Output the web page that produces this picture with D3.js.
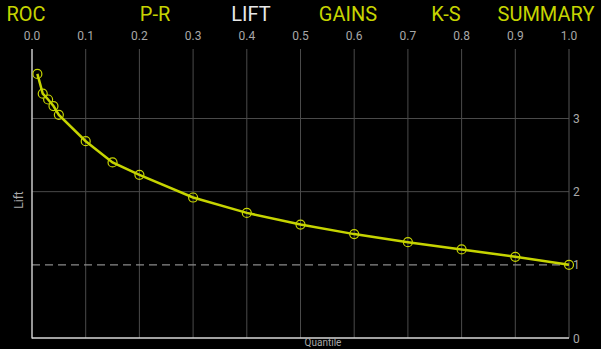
<!DOCTYPE html>
<html><head><meta charset="utf-8">
<script src="https://cdn.jsdelivr.net/npm/d3@7"></script>
<style>html,body{margin:0;padding:0;background:#000;overflow:hidden}</style>
</head><body>
<svg id="chart" width="601" height="349"></svg>
<script>
const tabs = ["ROC", "P-R", "LIFT", "GAINS", "K-S", "SUMMARY"];
const activeTab = "LIFT";
const quantiles = [0.01, 0.02, 0.03, 0.04, 0.05, 0.1, 0.15, 0.2, 0.3, 0.4, 0.5, 0.6, 0.7, 0.8, 0.9, 1.0];
const lift = [3.61, 3.34, 3.26, 3.17, 3.05, 2.69, 2.40, 2.23, 1.92, 1.71, 1.55, 1.42, 1.31, 1.21, 1.11, 1.0];
const xTicks = [0, 0.1, 0.2, 0.3, 0.4, 0.5, 0.6, 0.7, 0.8, 0.9, 1.0];
const yTicks = [0, 1, 2, 3];
const baseline = 1;

const svg = d3.select("#chart");
const m = {left: 32, right: 569, top: 49, bottom: 338};
const x = d3.scaleLinear().domain([0, 1]).range([m.left, m.right]);
const y = d3.scaleLinear().domain([0, 3.95]).range([m.bottom, m.top]);
const yellow = "#c6d400";
const font = "Roboto, 'DejaVu Sans', sans-serif";

// tabs
const tabCenters = {"ROC": 26, "P-R": 155, "LIFT": 251, "GAINS": 348, "K-S": 446, "SUMMARY": 546};
svg.append("g").selectAll("text").data(tabs).join("text")
  .attr("x", d => tabCenters[d]).attr("y", 21)
  .attr("text-anchor", "middle")
  .attr("font-family", font).attr("font-size", 20)
  .attr("fill", d => d === activeTab ? "#e8e8e8" : yellow)
  .text(d => d);

// vertical grid
svg.append("g").selectAll("line").data(xTicks.slice(1, -1)).join("line")
  .attr("x1", d => x(d)).attr("x2", d => x(d))
  .attr("y1", m.top).attr("y2", m.bottom)
  .attr("stroke", "#4a4a4a").attr("stroke-width", 1);
// horizontal grid
svg.append("g").selectAll("line").data(yTicks.filter(d => d > 0 && d !== baseline)).join("line")
  .attr("x1", m.left).attr("x2", m.right)
  .attr("y1", d => y(d)).attr("y2", d => y(d))
  .attr("stroke", "#4a4a4a").attr("stroke-width", 1);

// baseline dashed
svg.append("line")
  .attr("x1", m.left).attr("x2", m.right)
  .attr("y1", y(baseline)).attr("y2", y(baseline))
  .attr("stroke", "#8a8a8a").attr("stroke-width", 1.2)
  .attr("stroke-dasharray", "8,5");

// right axis line
svg.append("line").attr("x1", m.right).attr("x2", m.right)
  .attr("y1", m.top).attr("y2", m.bottom)
  .attr("stroke", "#555").attr("stroke-width", 1);
// left axis line
svg.append("line").attr("x1", m.left).attr("x2", m.left)
  .attr("y1", m.top).attr("y2", m.bottom + 0.5)
  .attr("stroke", "#c8c8c8").attr("stroke-width", 1.5);
// bottom axis line
svg.append("line").attr("x1", m.left).attr("x2", m.right)
  .attr("y1", m.bottom).attr("y2", m.bottom)
  .attr("stroke", "#d8d8d8").attr("stroke-width", 1.5);

// top x labels
svg.append("g").selectAll("text").data(xTicks).join("text")
  .attr("x", d => x(d)).attr("y", 40)
  .attr("text-anchor", "middle")
  .attr("font-family", font).attr("font-size", 12)
  .attr("fill", "#a8a8a8")
  .text(d => d3.format(".1f")(d));

// right y labels
svg.append("g").selectAll("text").data(yTicks).join("text")
  .attr("x", m.right + 4).attr("y", d => y(d) + 4.5)
  .attr("font-family", font).attr("font-size", 12)
  .attr("fill", "#a8a8a8")
  .text(d => d);

// axis titles
svg.append("text")
  .attr("transform", `translate(23,200) rotate(-90)`)
  .attr("text-anchor", "middle")
  .attr("font-family", font).attr("font-size", 12)
  .attr("fill", "#a8a8a8").text("Lift");
svg.append("text")
  .attr("x", 323).attr("y", 346)
  .attr("text-anchor", "middle")
  .attr("font-family", font).attr("font-size", 10)
  .attr("fill", "#a8a8a8").text("Quantile");

// line
const pts = quantiles.map((q, i) => [q, lift[i]]);
svg.append("path").datum(pts)
  .attr("d", d3.line().x(d => x(d[0])).y(d => y(d[1])))
  .attr("fill", "none").attr("stroke", yellow).attr("stroke-width", 2.5);
svg.append("g").selectAll("circle").data(pts).join("circle")
  .attr("cx", d => x(d[0])).attr("cy", d => y(d[1])).attr("r", 4.5)
  .attr("fill", "none").attr("stroke", yellow).attr("stroke-width", 1.2);
</script>
</body></html>
